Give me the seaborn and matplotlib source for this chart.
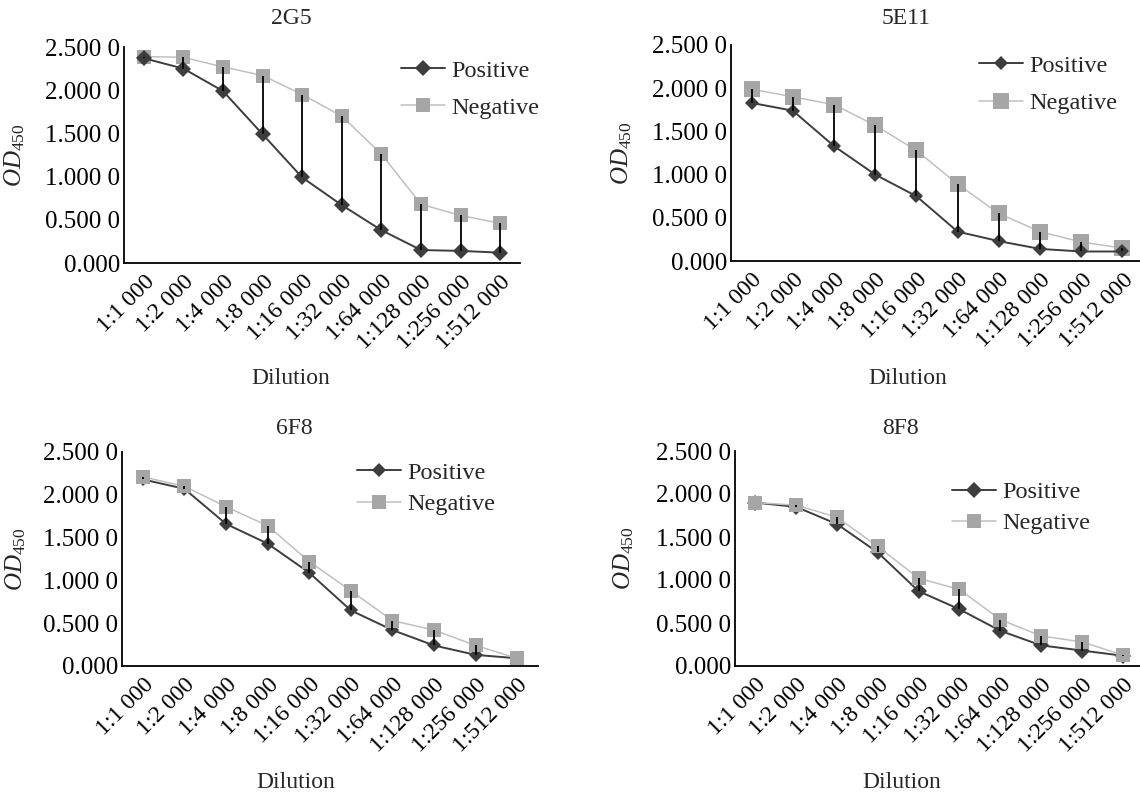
import numpy as np
import pandas as pd
import matplotlib
matplotlib.use("Agg")
import matplotlib.pyplot as plt
import seaborn as sns

# ---------------- data ----------------
dilutions = ["1:1 000", "1:2 000", "1:4 000", "1:8 000", "1:16 000",
             "1:32 000", "1:64 000", "1:128 000", "1:256 000", "1:512 000"]
titles = ["2G5", "5E11", "6F8", "8F8"]

pos_2g5 = [2.37, 2.25, 1.99, 1.49, 0.99, 0.67, 0.38, 0.15, 0.14, 0.12]
neg_2g5 = [2.39, 2.38, 2.27, 2.17, 1.95, 1.70, 1.26, 0.68, 0.55, 0.46]
pos_5e11 = [1.83, 1.74, 1.33, 1.00, 0.75, 0.34, 0.23, 0.14, 0.11, 0.11]
neg_5e11 = [1.99, 1.90, 1.81, 1.57, 1.28, 0.89, 0.55, 0.34, 0.22, 0.15]
pos_6f8 = [2.18, 2.07, 1.66, 1.43, 1.09, 0.65, 0.42, 0.24, 0.13, 0.09]
neg_6f8 = [2.21, 2.10, 1.86, 1.64, 1.22, 0.88, 0.53, 0.42, 0.24, 0.09]
pos_8f8 = [1.90, 1.85, 1.65, 1.32, 0.87, 0.66, 0.41, 0.24, 0.18, 0.12]
neg_8f8 = [1.90, 1.87, 1.73, 1.39, 1.02, 0.89, 0.54, 0.35, 0.28, 0.13]

yticks = [0.0, 0.5, 1.0, 1.5, 2.0, 2.5]
ytick_labels = ["0.000", "0.500 0", "1.000 0", "1.500 0", "2.000 0", "2.500 0"]

positives = [pos_2g5, pos_5e11, pos_6f8, pos_8f8]
negatives = [neg_2g5, neg_5e11, neg_6f8, neg_8f8]

# ---------------- style ----------------
sns.set_theme(style="white")
plt.rcParams["font.family"] = ["Liberation Serif", "DejaVu Serif"]
plt.rcParams["mathtext.fontset"] = "custom"
plt.rcParams["mathtext.it"] = "Liberation Serif:italic"
plt.rcParams["mathtext.rm"] = "Liberation Serif"

FS_YT = 18
FS_XT = 17
FS_LEG = 17.5
FS_LAB = 17
POS_C = "#3d3d3d"
NEG_MC = "#a6a6a6"
NEG_LC = "#c0c0c0"

W, H = 1140, 796
fig = plt.figure(figsize=(W / 100, H / 100), dpi=100)

# pixel rectangles (left, top, right, bottom)
rects = [(124, 47, 520, 263), (731, 45, 1143, 261),
         (122, 452, 538, 666), (735, 451, 1143, 666)]
title_pos = [(291, 18), (906, 18), (294, 428), (900, 428)]
xlabel_pos = [(291, 378), (908, 378), (296, 783), (902, 783)]
ylabel_offset = [97, 97, 94, 99]
legend_anchor = [(0.70, 0.941), (0.603, 0.956), (0.566, 0.954), (0.532, 0.859)]
legend_spacing = [0.61, 0.65, 0.38, 0.37]
pos_ms = [8.0, 7.5, 7.5, 8.0]
neg_ms = [10.0, 11.5, 9.5, 10.5]
pos_on_top = [True, True, False, False]

x = np.arange(len(dilutions))

for i in range(4):
    l, t, r, b = rects[i]
    ax = fig.add_axes([l / W, 1 - b / H, (r - l) / W, (b - t) / H])
    df_pos = pd.DataFrame({"x": x, "od": positives[i]})
    df_neg = pd.DataFrame({"x": x, "od": negatives[i]})

    def draw_pos(z):
        sns.lineplot(data=df_pos, x="x", y="od", ax=ax, color=POS_C,
                     marker="D", markersize=pos_ms[i], markeredgewidth=0,
                     markerfacecolor=POS_C, linewidth=1.4, label="Positive",
                     zorder=z)

    def draw_neg(z):
        sns.lineplot(data=df_neg, x="x", y="od", ax=ax, color=NEG_LC,
                     marker="s", markersize=neg_ms[i], markeredgewidth=0,
                     markerfacecolor=NEG_MC, linewidth=1.1, label="Negative",
                     zorder=z)

    if pos_on_top[i]:
        draw_neg(2)
        draw_pos(3)
    else:
        draw_pos(2)
        draw_neg(3)

    # high-low lines between the two series
    ax.vlines(x, positives[i], negatives[i], colors="black", linewidth=1.3,
              zorder=4)

    ax.set_xlim(-0.5, len(dilutions) - 0.5)
    ax.set_ylim(0, 2.5)
    ax.set_xticks(x)
    ax.set_xticklabels(dilutions, rotation=45, ha="right",
                       rotation_mode="anchor", fontsize=FS_XT)
    ax.set_yticks(yticks)
    ax.set_yticklabels(ytick_labels, fontsize=FS_YT)
    ax.tick_params(axis="both", length=0, colors="black")
    ax.tick_params(axis="y", pad=3)
    ax.tick_params(axis="x", pad=6)
    for s in ["top", "right"]:
        ax.spines[s].set_visible(False)
    for s in ["left", "bottom"]:
        ax.spines[s].set_color("black")
        ax.spines[s].set_linewidth(1.3)

    ax.set_xlabel("")
    ax.set_ylabel(r"$OD_{\mathrm{450}}$", fontsize=FS_LAB + 1)
    ax.yaxis.set_label_coords(-ylabel_offset[i] / (r - l), 0.5)

    handles, labels = ax.get_legend_handles_labels()
    order = [labels.index("Positive"), labels.index("Negative")]
    ax.legend([handles[k] for k in order], [labels[k] for k in order],
              loc="upper left", bbox_to_anchor=legend_anchor[i],
              frameon=False, fontsize=FS_LEG, handlelength=1.8,
              handletextpad=0.25, borderpad=0, borderaxespad=0,
              labelspacing=legend_spacing[i])

    fig.text(title_pos[i][0] / W, 1 - title_pos[i][1] / H, titles[i],
             ha="center", va="center", fontsize=FS_LAB)
    fig.text(xlabel_pos[i][0] / W, 1 - xlabel_pos[i][1] / H, "Dilution",
             ha="center", va="center", fontsize=FS_LAB)

fig.savefig("out.png", dpi=100, facecolor="white")
